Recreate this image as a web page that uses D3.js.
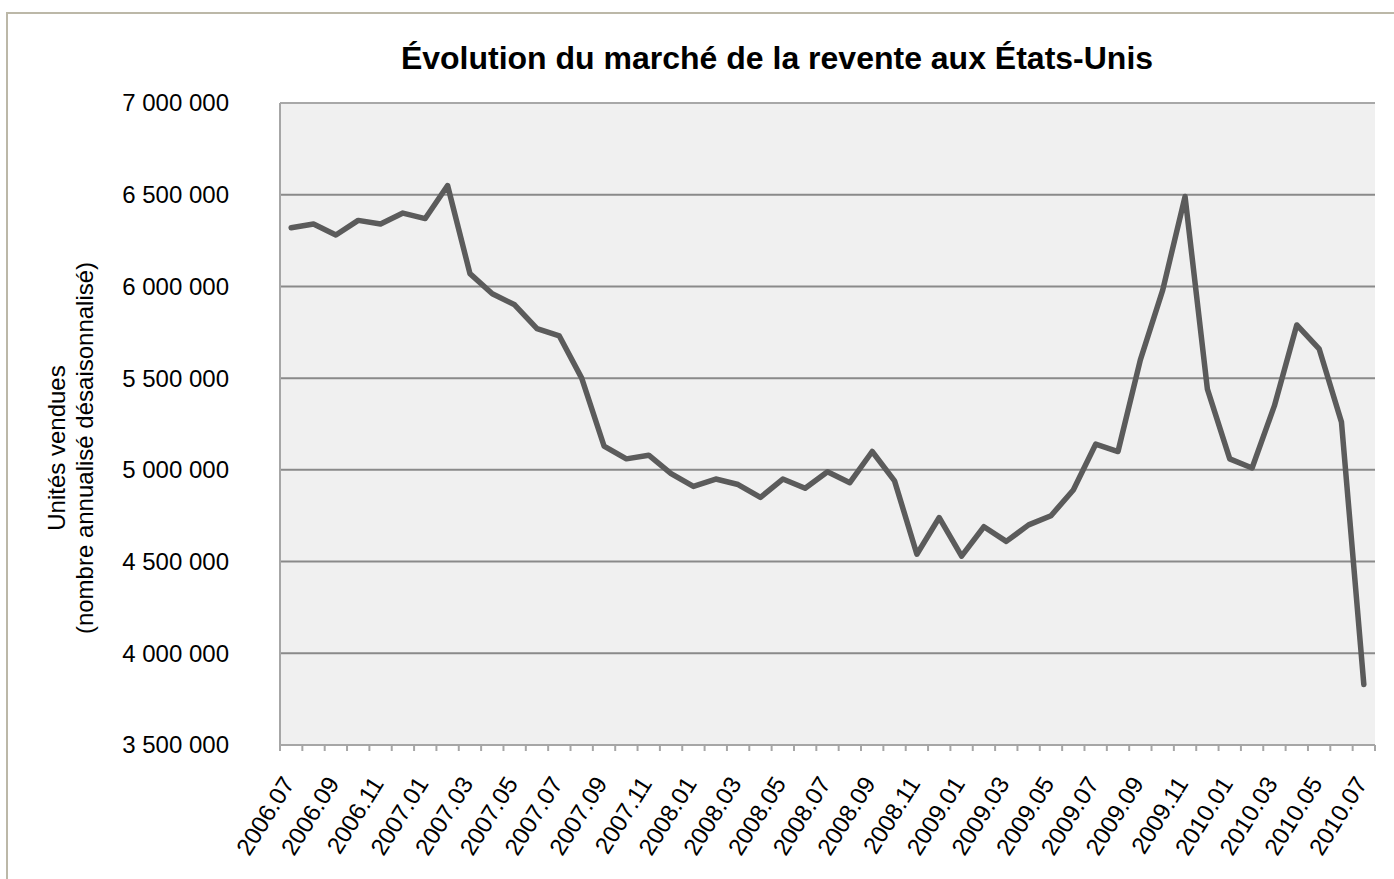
<!DOCTYPE html>
<html>
<head>
<meta charset="utf-8">
<script src="https://cdn.jsdelivr.net/npm/d3@7"></script>
<style>
  html, body { margin: 0; padding: 0; background: #ffffff; }
  svg { display: block; font-family: "Liberation Sans", Arial, sans-serif; }
</style>
</head>
<body>
<div id="chart"></div>
<script>
const months = [
  '2006.07', '2006.08', '2006.09', '2006.10', '2006.11', '2006.12',
  '2007.01', '2007.02', '2007.03', '2007.04', '2007.05', '2007.06',
  '2007.07', '2007.08', '2007.09', '2007.10', '2007.11', '2007.12',
  '2008.01', '2008.02', '2008.03', '2008.04', '2008.05', '2008.06',
  '2008.07', '2008.08', '2008.09', '2008.10', '2008.11', '2008.12',
  '2009.01', '2009.02', '2009.03', '2009.04', '2009.05', '2009.06',
  '2009.07', '2009.08', '2009.09', '2009.10', '2009.11', '2009.12',
  '2010.01', '2010.02', '2010.03', '2010.04', '2010.05', '2010.06',
  '2010.07'
];
const unitsSold = [
  6320000, 6340000, 6280000, 6360000, 6340000, 6400000,
  6370000, 6550000, 6070000, 5960000, 5900000, 5770000,
  5730000, 5500000, 5130000, 5060000, 5080000, 4980000,
  4910000, 4950000, 4920000, 4850000, 4950000, 4900000,
  4990000, 4930000, 5100000, 4940000, 4540000, 4740000,
  4530000, 4690000, 4610000, 4700000, 4750000, 4890000,
  5140000, 5100000, 5600000, 5980000, 6490000, 5440000,
  5060000, 5010000, 5350000, 5790000, 5660000, 5260000,
  3830000
];
const yTicks = [3500000, 4000000, 4500000, 5000000, 5500000, 6000000, 6500000, 7000000];
const labelledMonths = months.filter((_, i) => i % 2 === 0);

const width = 1394;
const height = 879;
const margin = { top: 103, right: 19, bottom: 134, left: 280 };

const svg = d3.select('#chart')
  .append('svg')
  .attr('width', width)
  .attr('height', height);

// outer chart frame (only top and left edges are visible in the crop)
svg.append('path')
  .attr('d', `M7,${height} L7,13 L${width},13`)
  .attr('fill', 'none')
  .attr('stroke', '#bcb8a8')
  .attr('stroke-width', 2);

const x = d3.scaleBand()
  .domain(months)
  .range([margin.left, width - margin.right]);
const y = d3.scaleLinear()
  .domain([3500000, 7000000])
  .range([height - margin.bottom, margin.top]);

svg.append('rect')
  .attr('x', margin.left)
  .attr('y', margin.top)
  .attr('width', x.range()[1] - margin.left)
  .attr('height', y(3500000) - margin.top)
  .attr('fill', '#f0f0f0');

// gridlines
svg.selectAll('.grid')
  .data(yTicks.slice(1))
  .enter()
  .append('line')
  .attr('class', 'grid')
  .attr('x1', margin.left)
  .attr('x2', x.range()[1])
  .attr('y1', (d) => y(d))
  .attr('y2', (d) => y(d))
  .attr('stroke', (d) => (d === 7000000 ? '#a8a8a8' : '#8a8a8a'))
  .attr('stroke-width', 2);

// axis lines
svg.append('line')
  .attr('x1', margin.left).attr('x2', margin.left)
  .attr('y1', margin.top).attr('y2', y(3500000))
  .attr('stroke', '#a6a6a6').attr('stroke-width', 2);
svg.append('line')
  .attr('x1', margin.left).attr('x2', x.range()[1])
  .attr('y1', y(3500000)).attr('y2', y(3500000))
  .attr('stroke', '#a6a6a6').attr('stroke-width', 2);

// x tick marks at category boundaries
const tickPositions = months.map((m) => x(m)).concat([x.range()[1]]);
svg.selectAll('.xtick')
  .data(tickPositions)
  .enter()
  .append('line')
  .attr('class', 'xtick')
  .attr('x1', (d) => d).attr('x2', (d) => d)
  .attr('y1', y(3500000)).attr('y2', y(3500000) + 6)
  .attr('stroke', '#a6a6a6').attr('stroke-width', 2);

// y tick labels
const fmt = (v) => d3.format(',')(v).replace(/,/g, ' ');
svg.selectAll('.ylabel')
  .data(yTicks)
  .enter()
  .append('text')
  .attr('class', 'ylabel')
  .attr('x', 229)
  .attr('y', (d) => y(d))
  .attr('dy', '0.35em')
  .attr('text-anchor', 'end')
  .attr('font-size', 24)
  .attr('fill', '#000')
  .text(fmt);

// x labels rotated
svg.selectAll('.xlabel')
  .data(labelledMonths)
  .enter()
  .append('text')
  .attr('class', 'xlabel')
  .attr('transform', (d) => `translate(${x(d) + x.bandwidth() / 2 - 3},779) rotate(-58)`)
  .attr('dy', '0.35em')
  .attr('text-anchor', 'end')
  .attr('font-size', 24)
  .attr('fill', '#000')
  .text((d) => d);

// line
const line = d3.line()
  .x((_, i) => x(months[i]) + x.bandwidth() / 2)
  .y((d) => y(d));
svg.append('path')
  .datum(unitsSold)
  .attr('fill', 'none')
  .attr('stroke', '#5b5b5b')
  .attr('stroke-width', 5.5)
  .attr('stroke-linejoin', 'round')
  .attr('stroke-linecap', 'round')
  .attr('d', line);

// title
svg.append('text')
  .attr('x', 777)
  .attr('y', 69)
  .attr('text-anchor', 'middle')
  .attr('font-size', 32)
  .attr('font-weight', 'bold')
  .attr('fill', '#000')
  .text('Évolution du marché de la revente aux États-Unis');

// y axis title
const yTitle = svg.append('text')
  .attr('transform', 'translate(0,448) rotate(-90)')
  .attr('text-anchor', 'middle')
  .attr('font-size', 24)
  .attr('fill', '#000');
yTitle.append('tspan').attr('x', 0).attr('y', 65).text('Unités vendues');
yTitle.append('tspan').attr('x', 0).attr('y', 93).text('(nombre annualisé désaisonnalisé)');
</script>
</body>
</html>
